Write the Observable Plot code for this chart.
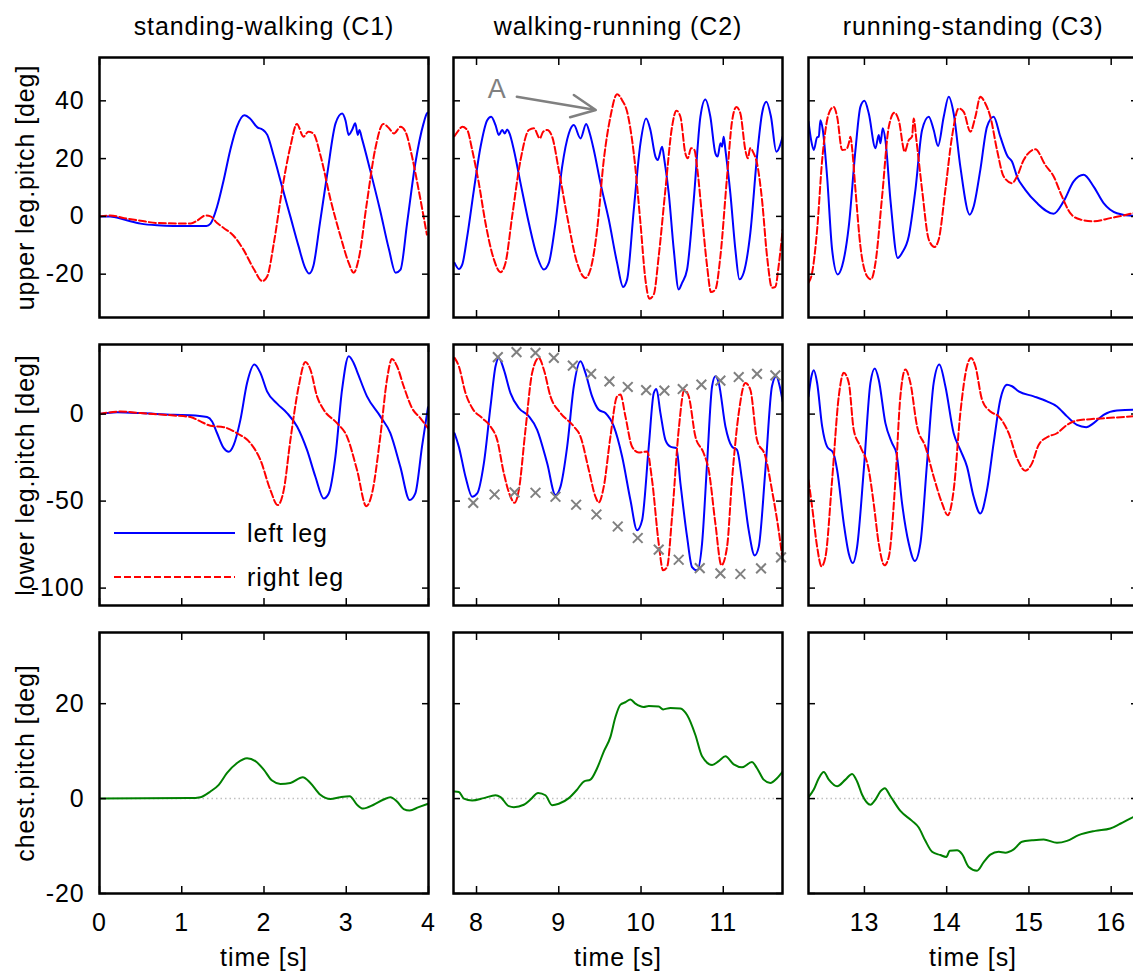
<!DOCTYPE html>
<html><head><meta charset="utf-8">
<script src="https://cdn.jsdelivr.net/npm/d3@7"></script>
<script src="https://cdn.jsdelivr.net/npm/@observablehq/plot@0.6"></script>
<style>
body{margin:0;background:#fff;overflow:hidden}
#chart{position:relative;width:1133px;height:976px;overflow:hidden;font-family:"Liberation Sans",Arial,sans-serif;background:#fff}
#chart svg{position:absolute;overflow:visible}
</style></head><body><div id="chart"></div><script>
// ---------- data (time [s], angle [deg]) ----------
const upperC1Left = [[0,0],[0.13,0],[0.30,-1.1],[0.50,-2.5],[0.70,-3.1],[0.90,-3.3],[1.30,-3.3],[1.35,-2.5],[1.43,3.4],[1.51,12.6],[1.59,23],[1.67,31],[1.76,35],[1.83,33.9],[1.92,30.8],[1.98,30.1],[2.04,28.2],[2.12,20.7],[2.22,10.3],[2.32,0],[2.42,-10.3],[2.50,-17.8],[2.55,-19.8],[2.60,-17.2],[2.68,-2.3],[2.77,14.9],[2.87,32.2],[2.95,35.6],[2.99,33.3],[3.03,28.2],[3.07,29.9],[3.11,32.2],[3.14,28.2],[3.16,29.9],[3.19,27],[3.29,16.1],[3.41,2.3],[3.52,-11.5],[3.60,-19.5],[3.66,-18.4],[3.74,-2.3],[3.84,18.4],[3.94,32.2],[3.98,35.6],[4.0,36]];
const upperC1Right = [[0,0],[0.13,0.3],[0.30,-0.6],[0.50,-1.5],[0.70,-2.3],[1.11,-2.5],[1.19,-1.4],[1.29,0.3],[1.35,0],[1.43,-2.3],[1.51,-4],[1.63,-6.7],[1.75,-11.5],[1.88,-18.4],[1.98,-22.4],[2.04,-20.7],[2.12,-9.2],[2.22,9.2],[2.32,24.1],[2.40,32],[2.48,27.6],[2.54,29.3],[2.60,28.7],[2.69,20.7],[2.81,5.7],[2.93,-6.9],[3.03,-16.1],[3.09,-19.5],[3.15,-14.9],[3.25,4.6],[3.35,23],[3.45,32],[3.52,30.5],[3.58,28.7],[3.66,31],[3.72,29.3],[3.80,20.7],[3.88,9.2],[3.98,-6.3]];
const upperC2Left = [[7.733,-16.1],[7.785,-18.2],[7.826,-16.7],[7.887,-6.9],[7.968,9.2],[8.049,24.1],[8.130,33.3],[8.178,34.5],[8.231,31.6],[8.271,28.2],[8.312,29.9],[8.344,28.7],[8.373,30.1],[8.401,28.7],[8.454,23],[8.535,11.5],[8.636,-2.3],[8.737,-13.8],[8.818,-18.4],[8.879,-16.1],[8.960,-2.3],[9.041,17.2],[9.122,28.7],[9.183,31.6],[9.264,27],[9.333,32],[9.377,28.7],[9.426,23],[9.507,11.5],[9.608,-1.1],[9.709,-16.1],[9.782,-24.4],[9.831,-21.8],[9.912,2.3],[9.993,25.3],[10.062,33.9],[10.114,29.9],[10.175,20.7],[10.203,19.5],[10.256,24.1],[10.284,19.5],[10.337,8],[10.398,-11.5],[10.458,-25.3],[10.499,-23],[10.560,-18.4],[10.641,5.7],[10.722,34.5],[10.782,40.5],[10.843,34.5],[10.904,21.8],[10.932,20.7],[10.965,25.3],[10.985,24.1],[11.005,27.6],[11.026,23],[11.086,8],[11.147,-11.5],[11.196,-21.8],[11.248,-19.5],[11.329,-5.7],[11.410,20.7],[11.471,35.6],[11.524,39.7],[11.580,34.5],[11.645,22.4],[11.722,27.6]];
const upperC2Right = [[7.733,27.8],[7.785,29.9],[7.826,31],[7.887,29.9],[7.947,23],[8.028,11.5],[8.109,-2.3],[8.211,-14.9],[8.292,-19.3],[8.352,-16.1],[8.433,0],[8.535,19.5],[8.636,29.9],[8.697,30.5],[8.770,27],[8.810,29.3],[8.859,29.9],[8.919,27.6],[9.000,16.1],[9.102,0],[9.223,-16.1],[9.324,-21.3],[9.385,-18.4],[9.466,-4.6],[9.547,19.5],[9.628,34.5],[9.709,42.3],[9.770,40.2],[9.831,36.2],[9.912,21.8],[9.993,-2.3],[10.053,-21.8],[10.102,-28.5],[10.155,-27],[10.215,-13.8],[10.296,9.2],[10.377,31],[10.430,36.6],[10.479,34.5],[10.539,21.8],[10.568,20.1],[10.608,23.6],[10.649,23],[10.681,17.2],[10.742,0],[10.803,-17.2],[10.851,-26.2],[10.904,-25.3],[10.965,-13.8],[11.046,13.8],[11.106,32.8],[11.159,37.9],[11.208,35.6],[11.268,23],[11.297,20.1],[11.329,23.6],[11.370,21.8],[11.410,18.4],[11.471,5.7],[11.532,-13.8],[11.592,-24.7],[11.633,-24.4],[11.673,-17.2],[11.722,-4.6]];
const upperC3Left = [[12.32,32.8],[12.352,26.4],[12.384,23],[12.425,27.4],[12.445,27.6],[12.465,33.3],[12.494,29.9],[12.546,13.8],[12.607,-11.5],[12.676,-20.1],[12.729,-17.2],[12.810,-3.4],[12.891,23],[12.951,37.9],[13.000,40],[13.053,35.6],[13.134,23.6],[13.174,28.2],[13.194,25.3],[13.223,30.5],[13.255,26.4],[13.316,5.7],[13.405,-14.4],[13.458,-12.6],[13.539,-6.9],[13.620,9.2],[13.701,29.9],[13.782,34.5],[13.842,29.9],[13.895,24.4],[13.964,34.5],[14.025,41.4],[14.085,35.6],[14.166,17.2],[14.280,0.6],[14.328,3.4],[14.409,16.1],[14.490,31],[14.571,34.5],[14.652,27.6],[14.742,20.7],[14.794,19],[14.855,13.8],[14.956,9.2],[15.098,4.6],[15.301,0.9],[15.422,5.2],[15.544,12.1],[15.665,14.4],[15.787,10.3],[15.908,4.6],[16.070,1.1],[16.268,0.2],[16.32,0.2]];
const upperC3Right = [[12.32,-23],[12.364,-19.5],[12.425,-4.6],[12.486,19.5],[12.567,35.6],[12.627,37.9],[12.668,34.5],[12.729,23],[12.781,23.2],[12.810,25.3],[12.830,27.6],[12.850,23.6],[12.891,9.2],[12.951,-10.3],[13.032,-20.7],[13.081,-21.8],[13.134,-16.1],[13.215,6.9],[13.296,31],[13.365,35.9],[13.417,33.3],[13.490,22.4],[13.539,26.4],[13.579,27.6],[13.599,33.9],[13.632,26.4],[13.701,9.2],[13.782,-8],[13.851,-10.6],[13.903,-8],[13.984,9.2],[14.065,27.6],[14.146,37.4],[14.207,36.2],[14.288,29.3],[14.349,34.5],[14.409,41.4],[14.470,39.1],[14.531,34.5],[14.612,23],[14.693,13.8],[14.794,11.5],[14.855,13.8],[14.936,19.5],[15.078,23.2],[15.199,17.8],[15.301,13.8],[15.402,6.9],[15.503,1.1],[15.625,-1.1],[15.787,-1.7],[15.989,-0.6],[16.151,0.3],[16.268,1.1],[16.32,1.3]];

const lowerC1Left = [[0,0],[0.215,1],[0.498,0.6],[0.903,-0.4],[1.106,-0.6],[1.308,-1.7],[1.369,-4.2],[1.430,-11],[1.511,-19.6],[1.571,-21.7],[1.632,-17.7],[1.713,-3.3],[1.794,17.9],[1.883,28.5],[1.956,23.7],[2.037,13.1],[2.159,6],[2.280,0.6],[2.402,-7.1],[2.523,-20.6],[2.625,-36],[2.726,-48.5],[2.787,-45.6],[2.868,-24.4],[2.949,14],[3.030,33.3],[3.090,29.4],[3.131,24.6],[3.252,10.2],[3.414,-1.3],[3.536,-11],[3.657,-30.2],[3.771,-49.4],[3.840,-45.6],[3.921,-18.7],[3.994,4]];
const lowerC1Right = [[0,0],[0.255,1.5],[0.498,0.6],[0.903,-0.8],[1.106,-1.7],[1.227,-4.2],[1.349,-6.7],[1.511,-7.5],[1.673,-11],[1.835,-16.7],[1.956,-26.3],[2.078,-43.7],[2.167,-52.3],[2.240,-43.7],[2.321,-14.8],[2.422,16],[2.503,30],[2.564,25.6],[2.645,10.2],[2.726,2.5],[2.888,-5.2],[3.009,-12.9],[3.131,-32.1],[3.244,-52.9],[3.313,-45.6],[3.414,-12.9],[3.495,19.8],[3.556,31.7],[3.617,27.5],[3.698,16],[3.799,3.5],[3.900,-2.3],[3.994,-8.1]];
const lowerC2Left = [[7.733,-11],[7.785,-18.7],[7.866,-36],[7.947,-47.5],[8.008,-45.6],[8.089,-28.3],[8.170,4.4],[8.231,27.5],[8.271,32.3],[8.332,25.6],[8.413,12.1],[8.514,3.5],[8.636,-1.3],[8.737,-9],[8.859,-28.3],[8.960,-46.5],[9.021,-41.7],[9.102,-18.7],[9.183,16],[9.264,30.4],[9.324,23.7],[9.405,10.2],[9.486,2.5],[9.567,0.6],[9.669,-7.1],[9.770,-24.4],[9.871,-49.4],[9.952,-66.7],[10.013,-61],[10.094,-18.7],[10.155,12.1],[10.187,14.4],[10.236,0.6],[10.296,-14.8],[10.357,-18.7],[10.430,-19.6],[10.479,-39.8],[10.560,-70.6],[10.620,-87.9],[10.681,-89.8],[10.742,-74.4],[10.803,-28.3],[10.864,16],[10.904,21.7],[10.945,17.9],[11.026,-7.1],[11.106,-18.7],[11.167,-20.6],[11.228,-37.9],[11.309,-66.7],[11.382,-81.2],[11.431,-76.3],[11.512,-32.1],[11.592,16],[11.645,21.7],[11.686,16],[11.722,7.3]];
const lowerC2Right = [[7.733,32.3],[7.785,27.5],[7.866,12.1],[7.947,3.5],[8.069,-2.3],[8.170,-7.1],[8.251,-14.8],[8.332,-34],[8.413,-47.5],[8.462,-51],[8.514,-43.7],[8.595,-9],[8.676,23.7],[8.757,32.3],[8.818,25.6],[8.899,10.2],[9.021,0.6],[9.183,-7.1],[9.264,-12.9],[9.365,-32.1],[9.446,-47.5],[9.486,-50.8],[9.547,-41.7],[9.628,-12.9],[9.709,10.2],[9.750,11.2],[9.810,-1.3],[9.891,-18.7],[9.972,-22.1],[10.074,-21.5],[10.134,-37.9],[10.215,-74.4],[10.268,-89.8],[10.317,-87.9],[10.377,-59],[10.458,-9],[10.527,14],[10.580,10.2],[10.661,-12.9],[10.762,-22.5],[10.823,-32.1],[10.904,-62.9],[10.977,-86.9],[11.046,-76.3],[11.106,-37.9],[11.188,0.6],[11.268,17.9],[11.329,14],[11.410,-14.8],[11.512,-24.4],[11.592,-43.7],[11.673,-66.7],[11.722,-84]];
const lowerC3Left = [[12.32,10.2],[12.356,21.7],[12.384,25.2],[12.425,17.9],[12.486,-7.1],[12.546,-18.7],[12.619,-22.1],[12.668,-32.1],[12.749,-62.9],[12.810,-80.2],[12.858,-85.6],[12.911,-76.3],[12.992,-32.1],[13.073,17.9],[13.126,26.2],[13.174,19.8],[13.255,-5.2],[13.336,-16.7],[13.389,-22.5],[13.458,-51.5],[13.539,-74.4],[13.612,-84.4],[13.680,-74.4],[13.761,-28.3],[13.842,17.9],[13.911,28.5],[13.984,16],[14.085,-11],[14.166,-20.6],[14.247,-30.2],[14.328,-47.5],[14.409,-57.1],[14.490,-43.7],[14.571,-16.7],[14.652,8.3],[14.733,16.9],[14.794,16],[14.875,13.1],[15.058,10.2],[15.220,7.3],[15.341,4.4],[15.463,-1.3],[15.584,-6.2],[15.697,-7.5],[15.787,-5.2],[15.908,-0.4],[16.070,2.1],[16.268,2.5],[16.32,2.5]];
const lowerC3Right = [[12.32,-37.9],[12.364,-53.3],[12.425,-76.3],[12.478,-87.5],[12.526,-82.1],[12.607,-37.9],[12.688,10.2],[12.749,23.7],[12.810,17.9],[12.870,-9],[12.951,-18.7],[13.053,-32.1],[13.113,-51.5],[13.174,-74.4],[13.243,-86.9],[13.296,-82.1],[13.377,-37.9],[13.437,10.2],[13.498,25.6],[13.559,17.9],[13.640,-7.1],[13.741,-18.7],[13.842,-36],[13.944,-51.3],[14.013,-58.1],[14.085,-43.7],[14.166,0.6],[14.247,27.5],[14.296,32.3],[14.349,27.5],[14.430,8.3],[14.531,1.5],[14.632,-1.3],[14.754,-11],[14.855,-25.4],[14.956,-32.5],[15.037,-28.3],[15.118,-17.7],[15.220,-13.3],[15.341,-11],[15.463,-6.2],[15.584,-3.7],[15.746,-2.9],[15.949,-2.3],[16.268,-1.3],[16.32,-1.2]];

const chestC1 = [[0,0],[1.106,0.1],[1.227,0.3],[1.349,1.5],[1.450,2.9],[1.551,5.4],[1.673,7.5],[1.794,8.5],[1.895,7.9],[1.997,6.1],[2.098,3.8],[2.199,3.1],[2.321,3.3],[2.471,4.5],[2.564,3.3],[2.685,0.8],[2.807,-0.1],[2.928,0.3],[3.042,0.5],[3.131,-1.3],[3.204,-2.1],[3.333,-1.3],[3.455,-0.2],[3.536,0.3],[3.617,-0.6],[3.698,-2.2],[3.771,-2.5],[3.880,-1.8],[3.994,-1.1]];
const chestC2 = [[7.733,1.5],[7.785,1.4],[7.846,0],[7.947,-0.4],[8.089,0.1],[8.231,0.7],[8.292,0.3],[8.393,-1.6],[8.454,-1.8],[8.575,-1.3],[8.656,-0.2],[8.749,1.2],[8.838,0.7],[8.919,-1.4],[9.000,-1.1],[9.122,0.1],[9.223,1.9],[9.304,3.6],[9.385,4],[9.466,6.4],[9.547,9.9],[9.628,13],[9.689,17.2],[9.750,19.8],[9.810,20.3],[9.871,20.9],[9.932,20],[10.033,19.3],[10.094,19.5],[10.215,19.4],[10.268,18.8],[10.357,19.1],[10.479,19],[10.560,17.6],[10.661,13.4],[10.742,8.9],[10.864,7.1],[10.945,7.9],[11.026,8.9],[11.127,7.2],[11.228,6.6],[11.349,7.7],[11.410,6.4],[11.491,4],[11.572,3.3],[11.653,4.3],[11.722,5.7]];
const chestC3 = [[12.32,0.3],[12.384,1.9],[12.445,4.3],[12.506,5.6],[12.567,4],[12.668,2.6],[12.769,4],[12.850,5.2],[12.911,3.6],[12.972,0.8],[13.073,-1.3],[13.134,-0.2],[13.194,1.5],[13.247,2.2],[13.316,0.5],[13.437,-2.6],[13.579,-4.7],[13.660,-6.1],[13.741,-8.9],[13.822,-11.2],[13.923,-11.9],[13.996,-12.3],[14.037,-11],[14.126,-10.9],[14.187,-11.7],[14.268,-14.4],[14.369,-15.2],[14.450,-13.4],[14.531,-11.8],[14.632,-11.2],[14.713,-11.4],[14.815,-10.7],[14.916,-9.1],[15.037,-8.8],[15.179,-8.6],[15.341,-9.3],[15.463,-8.9],[15.604,-7.7],[15.807,-6.8],[15.989,-6.3],[16.110,-5.3],[16.268,-3.9],[16.32,-3.5]];

// gray envelope markers (lower leg, walking-running)
const envelopeUpper = [[8.259,32.7],[8.486,35.6],[8.717,35.2],[8.940,32.3],[9.171,27.9],[9.393,23.1],[9.616,18.8],[9.839,15.6],[10.062,13.8],[10.284,13.5],[10.507,14.4],[10.734,16.9],[10.965,19.2],[11.188,21.3],[11.410,23.1],[11.633,22.3]];
const envelopeLower = [[7.960,-51],[8.219,-46.2],[8.462,-45],[8.717,-45.2],[8.960,-47.5],[9.211,-52.1],[9.458,-57.7],[9.717,-64.6],[9.960,-71.2],[10.215,-77.9],[10.458,-83.7],[10.714,-88.5],[10.965,-91.5],[11.208,-91.9],[11.459,-88.7],[11.702,-82.3]];

// annotation "A"
const annotLabel = [{t: 8.25, v: 43.9, text: "A"}];
const annotArrow = [{t1: 8.49, v1: 41.4, t2: 9.45, v2: 36.8}];

// labels and ticks
const colTitles = ["standing-walking (C1)", "walking-running (C2)", "running-standing (C3)"];
const rowLabels = ["upper leg.pitch [deg]", "lower leg.pitch [deg]", "chest.pitch [deg]"];
const xLabel = "time [s]";
const xDomains = [[0, 4], [7.72, 11.72], [12.32, 16.32]];
const yDomains = [[-35, 55], [-110, 40], [-20, 35]];
const xTicks = [[0, 1, 2, 3, 4], [8, 9, 10, 11], [13, 14, 15, 16]];
const xTicksTopLeft = [0, 2, 4];
const yTicks = [[-20, 0, 20, 40], [-100, -50, 0], [-20, 0, 20]];
const legendItems = [{label: "left leg", color: "#0000ff", dash: null}, {label: "right leg", color: "#ff0000", dash: "7,3"}];

// ---------- layout ----------
const colLeft = [99, 453, 808];
const rowTop = [57, 344, 632];
const rowH = [260, 261, 261];
const panelW = 329;
const FONT = '"Liberation Sans", Arial, sans-serif';
const FS = 25;
const LS = "0.9px";
const fmt = d => String(d);

const pts = a => a.map(([t, v]) => ({t, v}));
const series = [
  [[upperC1Left, upperC1Right], [upperC2Left, upperC2Right], [upperC3Left, upperC3Right]],
  [[lowerC1Left, lowerC1Right], [lowerC2Left, lowerC2Right], [lowerC3Left, lowerC3Right]],
  [[chestC1], [chestC2], [chestC3]]
];

const chart = document.getElementById("chart");

function panel(r, c) {
  const marks = [];
  const xt = (r === 0 && c === 0) ? xTicksTopLeft : xTicks[c];
  const yt = yTicks[r];
  if (r === 2) marks.push(Plot.ruleY([0], {stroke: "#c0c0c0", strokeWidth: 1.5, strokeDasharray: "1.5,3"}));
  const s = series[r][c];
  if (r < 2) {
    marks.push(Plot.line(pts(s[0]), {x: "t", y: "v", stroke: "#0000ff", strokeWidth: 2, curve: "monotone-x", clip: true}));
    marks.push(Plot.line(pts(s[1]), {x: "t", y: "v", stroke: "#ff0000", strokeWidth: 2, strokeDasharray: "7,3", curve: "monotone-x", clip: true}));
  } else {
    marks.push(Plot.line(pts(s[0]), {x: "t", y: "v", stroke: "#008000", strokeWidth: 2, curve: "monotone-x", clip: true}));
  }
  if (r === 1 && c === 1) {
    marks.push(Plot.dot(pts(envelopeUpper).concat(pts(envelopeLower)), {x: "t", y: "v", symbol: "times", r: 4.5, stroke: "#808080", strokeWidth: 2}));
  }
  if (r === 0 && c === 1) {
    marks.push(Plot.arrow(annotArrow, {x1: "t1", y1: "v1", x2: "t2", y2: "v2", stroke: "#808080", strokeWidth: 2.5, headLength: 16, headAngle: 50}));
    marks.push(Plot.text(annotLabel, {x: "t", y: "v", text: "text", fill: "#808080", fontSize: 27, lineAnchor: "middle"}));
  }
  // inward ticks on all four sides
  const tk = {tickSize: 7, label: null, tickFormat: () => "", strokeWidth: 1.5};
  marks.push(Plot.axisX({...tk, ticks: xt, anchor: "bottom", dy: -7}));
  marks.push(Plot.axisX({...tk, ticks: xt, anchor: "top", dy: 7}));
  marks.push(Plot.axisY({...tk, ticks: yt, anchor: "left", dx: 7}));
  marks.push(Plot.axisY({...tk, ticks: yt, anchor: "right", dx: -7}));
  marks.push(Plot.frame({stroke: "black", strokeWidth: 2.5}));
  // tick labels and axis titles
  if (c === 0) {
    marks.push(Plot.axisY({ticks: yt, anchor: "left", tickSize: 0, tickPadding: 15, label: null, fontSize: FS, tickFormat: fmt}));
    marks.push(Plot.text([rowLabels[r]], {text: d => d, frameAnchor: "left", dx: -74, rotate: -90, fontSize: FS, textAnchor: "middle", lineAnchor: "middle"}));
  }
  if (r === 2) {
    marks.push(Plot.axisX({ticks: xTicks[c], anchor: "bottom", tickSize: 0, tickPadding: 20, label: null, fontSize: FS, tickFormat: fmt}));
    marks.push(Plot.text([xLabel], {text: d => d, frameAnchor: "bottom", dy: 64, fontSize: FS, textAnchor: "middle", lineAnchor: "middle"}));
  }
  if (r === 0) {
    marks.push(Plot.text([colTitles[c]], {text: d => d, frameAnchor: "top", dy: -31, fontSize: FS, textAnchor: "middle", lineAnchor: "middle"}));
  }
  const svg = Plot.plot({
    width: panelW, height: rowH[r], margin: 0,
    x: {domain: xDomains[c]}, y: {domain: yDomains[r]},
    style: {background: "transparent", overflow: "visible", fontFamily: FONT, fontSize: FS + "px", letterSpacing: LS, color: "black"},
    marks
  });
  svg.style.left = colLeft[c] + "px";
  svg.style.top = rowTop[r] + "px";
  chart.appendChild(svg);
}

for (let r = 0; r < 3; r++) for (let c = 0; c < 3; c++) panel(r, c);

// legend inside lower-leg standing-walking panel
const leg = d3.select(chart).append("svg")
  .attr("width", 260).attr("height", 90)
  .style("left", "108px").style("top", "511px")
  .style("font-family", FONT).style("font-size", FS + "px").style("letter-spacing", LS);
legendItems.forEach((d, i) => {
  const y = 22 + i * 44;
  leg.append("line").attr("x1", 6).attr("x2", 127).attr("y1", y).attr("y2", y)
    .attr("stroke", d.color).attr("stroke-width", 2).attr("stroke-dasharray", d.dash);
  leg.append("text").attr("x", 139).attr("y", y).attr("dy", "0.35em").text(d.label);
});
</script></body></html>
